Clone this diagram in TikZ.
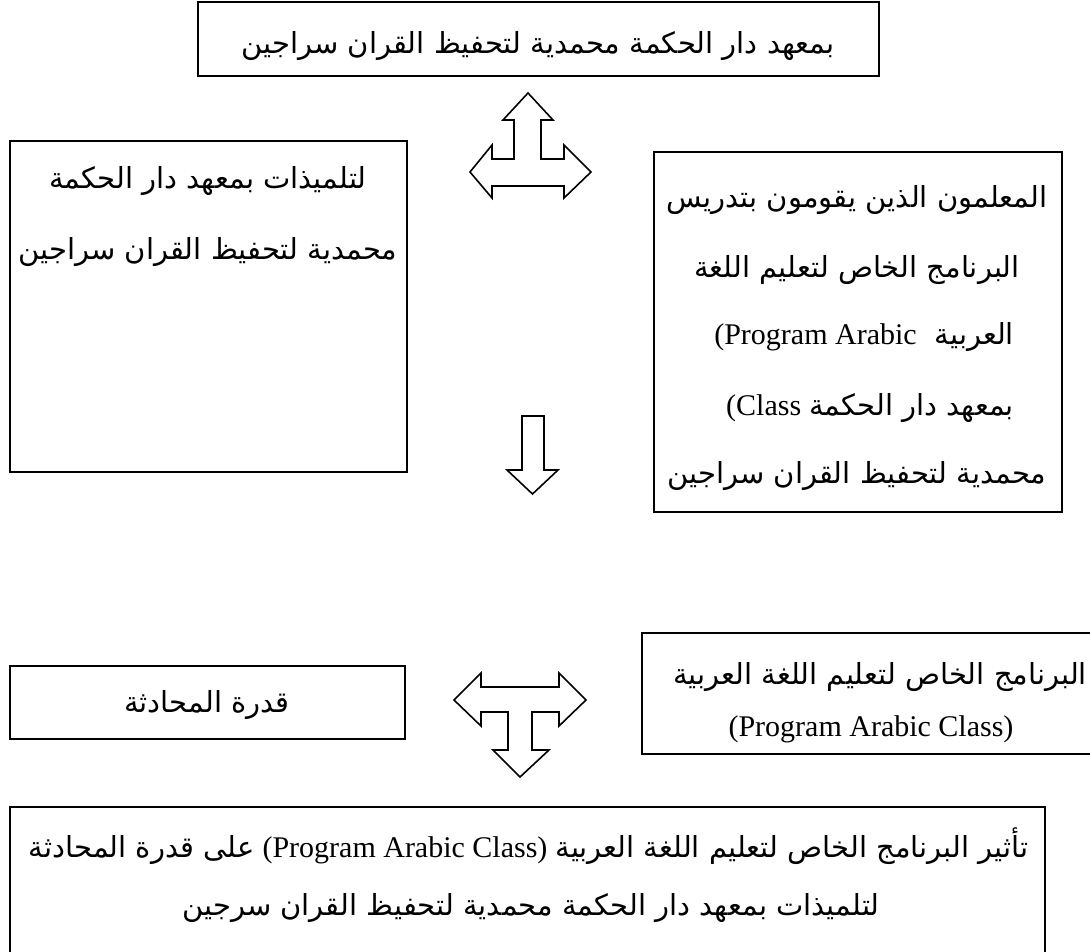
\documentclass[tikz,border=0pt]{standalone}
\usepackage{fontspec}
\TeXXeTstate=1
\newfontfamily\arabicfont[Script=Arabic]{DejaVu Sans}
\newfontfamily\latinfont{Liberation Serif}
\newcommand{\ar}[1]{{\beginR #1\endR}}
\begin{document}
\begin{tikzpicture}[x=1pt,y=-1pt,
  box/.style={draw=black,line width=2pt,inner sep=0pt,outer sep=0pt},
  txt/.style={inner sep=0pt,outer sep=0pt,text height=20pt,text depth=8pt,font=\arabicfont\fontsize{29}{34}\selectfont},
  lat/.style={inner sep=0pt,outer sep=0pt,text height=20pt,text depth=8pt,font=\latinfont\fontsize{30}{34}\selectfont},
  blockarrow/.style={draw=black,line width=1.6pt,fill=white,line join=miter}]
\useasboundingbox (0,0) rectangle (1090,951);
% boxes
\node[box,minimum width=681pt,minimum height=74pt] (top) at (538.5,39) {};
\node[box,minimum width=397pt,minimum height=331pt] (left) at (208.5,306.5) {};
\node[box,minimum width=408pt,minimum height=360pt] (right) at (858,332) {};
\node[box,minimum width=395pt,minimum height=73pt] (bl) at (207.5,702.5) {};
\node[box,minimum width=458pt,minimum height=121pt] (br) at (871,693.5) {};
\node[box,minimum width=1035pt,minimum height=158pt] (bottom) at (527.5,886) {};
% texts
\node[txt] (t1) at (538,47) {\ar{بمعهد دار الحكمة محمدية لتحفيظ القران سراجين}};
\node[txt] (l1) at (208,182) {\ar{لتلميذات بمعهد دار الحكمة}};
\node[txt] (l2) at (208,253) {\ar{محمدية لتحفيظ القران سراجين}};
\node[txt] (r1) at (857,201) {\ar{المعلمون الذين يقومون بتدريس}};
\node[txt] (r2) at (857,271) {\ar{البرنامج الخاص لتعليم اللغة}};
\node[txt,anchor=east] (r3a) at (1014,338) {\ar{العربية}};
\node[lat,anchor=east] (r3b) at ([xshift=-18pt]r3a.west) {(Program Arabic};
\node[txt,anchor=east] (r4a) at (1014,409) {\ar{بمعهد دار الحكمة}};
\node[lat,anchor=east] (r4b) at ([xshift=-8pt]r4a.west) {(Class};
\node[txt] (r5) at (857,477) {\ar{محمدية لتحفيظ القران سراجين}};
\node[txt] (b1) at (207,706) {\ar{قدرة المحادثة}};
\node[txt] (c1) at (880,678) {\ar{البرنامج الخاص لتعليم اللغة العربية}};
\node[lat] (c2) at (871,730) {(Program Arabic Class)};
\node[lat] (d1m) at (405,851) {(Program Arabic Class)};
\node[txt,anchor=west] (d1r) at ([xshift=8pt]d1m.east) {\ar{تأثير البرنامج الخاص لتعليم اللغة العربية}};
\node[txt,anchor=east] (d1l) at ([xshift=-8pt]d1m.west) {\ar{على قدرة المحادثة}};
\node[txt] (d2) at (531,909) {\ar{لتلميذات بمعهد دار الحكمة محمدية لتحفيظ القران سرجين}};
% block arrows
\draw[blockarrow] (528,93) -- (553,120) -- (541,120) -- (541,159) -- (564,159) -- (564,145)
  -- (591,172) -- (564,198) -- (564,186) -- (492,186) -- (492,198) -- (470,172)
  -- (492,145) -- (492,159) -- (514,159) -- (514,120) -- (503,120) -- cycle;
\draw[blockarrow] (522,416) -- (544,416) -- (544,470) -- (558,470) -- (532.5,494)
  -- (507,470) -- (522,470) -- cycle;
\draw[blockarrow] (454,700) -- (481,673) -- (481,687) -- (559,687) -- (559,673)
  -- (586,700) -- (559,726) -- (559,712) -- (532,712) -- (532,750) -- (549,750)
  -- (520,777) -- (493,750) -- (508,750) -- (508,712) -- (481,712) -- (481,726) -- cycle;
\end{tikzpicture}
\end{document}
